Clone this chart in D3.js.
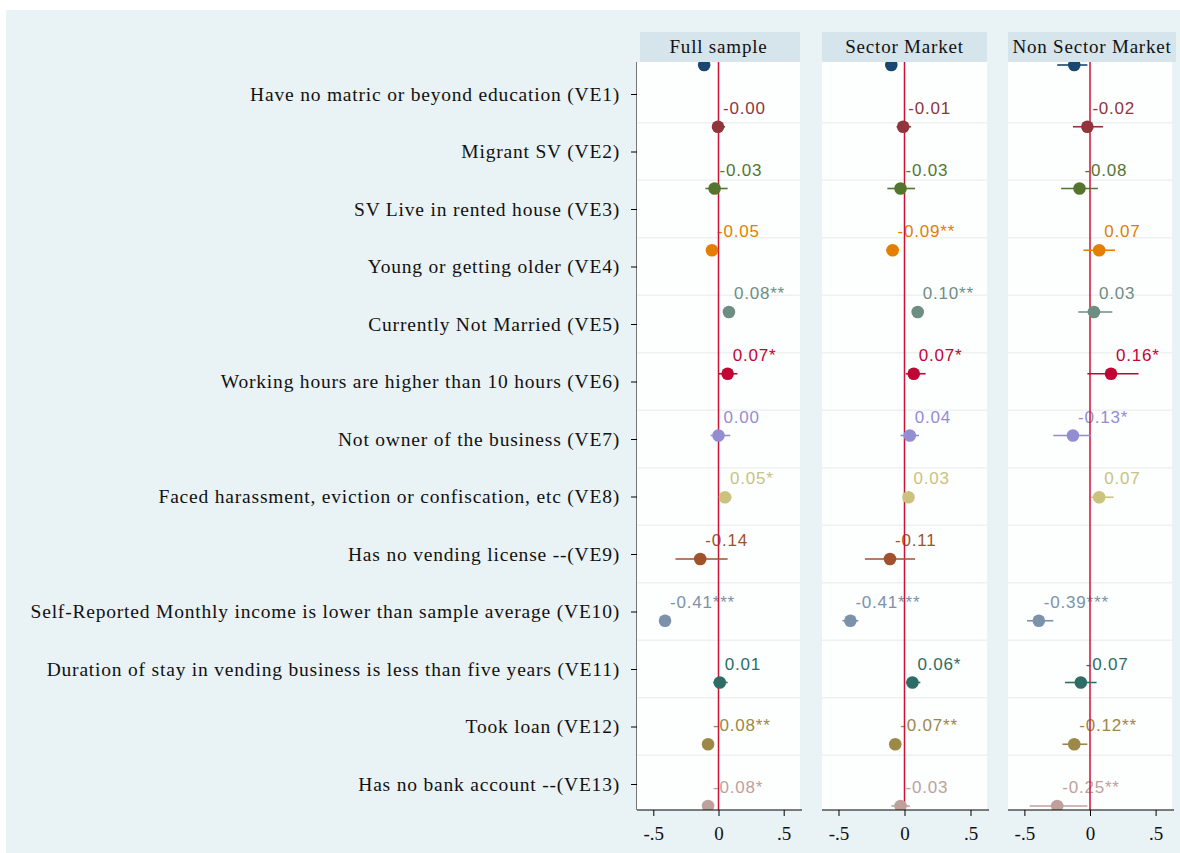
<!DOCTYPE html>
<html>
<head>
<meta charset="utf-8">
<script src="https://cdn.jsdelivr.net/npm/d3@7"></script>
<style>
  body { margin: 0; background: #fff; }
  svg { display: block; }
</style>
</head>
<body>
<div class="content-container"></div>
<script>
// variables (rows of the coefficient plot)
const codes = ["VE1","VE2","VE3","VE4","VE5","VE6","VE7","VE8","VE9","VE10","VE11","VE12","VE13"];
const varLabels = [
  "Have no matric or beyond education (VE1)",
  "Migrant SV  (VE2)",
  "SV  Live in rented house (VE3)",
  "Young or getting older (VE4)",
  "Currently Not Married (VE5)",
  "Working hours are higher than 10 hours (VE6)",
  "Not owner of the business (VE7)",
  "Faced harassment, eviction or confiscation, etc (VE8)",
  "Has no vending license --(VE9)",
  "Self-Reported Monthly income is lower than sample average (VE10)",
  "Duration of stay in vending business is less than five years (VE11)",
  "Took loan (VE12)",
  "Has no bank account --(VE13)"
];
const colors = ["#1a476f","#90353b","#55752f","#e37e00","#6e8e84","#c10534","#938dd2",
                "#cac27e","#a0522d","#7b92a8","#2d6d66","#9c8847","#bfa19c"];

const panelNames = ["Full sample", "Sector Market", "Non Sector Market"];

// Full sample
const fullCoef  = [-0.11, -0.004, -0.03, -0.05, 0.08, 0.07, 0.00, 0.05, -0.14, -0.41, 0.01, -0.08, -0.08];
const fullLo    = [-0.15, -0.05, -0.10, -0.08, 0.05, 0.00, -0.06, 0.01, -0.33, -0.44, -0.04, -0.12, -0.12];
const fullHi    = [-0.07, 0.05, 0.07, -0.02, 0.11, 0.145, 0.09, 0.10, 0.07, -0.38, 0.07, -0.04, -0.04];
const fullStars = ["", "", "", "", "**", "*", "", "*", "", "***", "", "**", "*"];

// Sector market
const sectorCoef  = [-0.10, -0.01, -0.03, -0.09, 0.10, 0.07, 0.04, 0.03, -0.11, -0.41, 0.06, -0.07, -0.03];
const sectorLo    = [-0.14, -0.06, -0.13, -0.14, 0.06, 0.01, -0.03, 0.00, -0.30, -0.47, 0.01, -0.11, -0.10];
const sectorHi    = [-0.06, 0.05, 0.08, -0.04, 0.14, 0.16, 0.11, 0.07, 0.08, -0.35, 0.12, -0.03, 0.04];
const sectorStars = ["", "", "", "**", "**", "*", "", "", "", "***", "*", "**", ""];

// Non sector market (VE9 not estimated)
const nonCoef  = [-0.12, -0.02, -0.08, 0.07, 0.03, 0.16, -0.13, 0.07, null, -0.39, -0.07, -0.12, -0.25];
const nonLo    = [-0.25, -0.13, -0.22, -0.05, -0.09, -0.02, -0.28, 0.01, null, -0.48, -0.19, -0.21, -0.46];
const nonHi    = [-0.02, 0.10, 0.06, 0.19, 0.17, 0.37, 0.01, 0.18, null, -0.28, 0.05, -0.02, -0.02];
const nonStars = ["", "", "", "", "", "*", "*", "", "", "***", "", "**", "**"];

const xTicks = [-0.5, 0, 0.5];
const xTickLabels = ["-.5", "0", ".5"];

const width = 1180, height = 853;
const plotTop = 62, plotBottom = 810, headerTop = 32;
const panelBounds = [[637, 800], [822, 987], [1008, 1172]];

const panels = [
  {name: panelNames[0], coef: fullCoef, lo: fullLo, hi: fullHi, stars: fullStars},
  {name: panelNames[1], coef: sectorCoef, lo: sectorLo, hi: sectorHi, stars: sectorStars},
  {name: panelNames[2], coef: nonCoef, lo: nonLo, hi: nonHi, stars: nonStars}
];

const fmt = v => (v < 0 ? "-" : "") + Math.abs(v).toFixed(2);

const svg = d3.select(".content-container").append("svg")
  .attr("width", width).attr("height", height);

// BACKGROUND
svg.append("rect").attr("x", 6).attr("y", 10).attr("width", width - 6).attr("height", height - 10)
  .attr("fill", "#e9f2f4");

// SCALES
const yMarker = d3.scalePoint().domain(codes).range([65, 806]);
const yTick = d3.scalePoint().domain(codes).range([94, 784]);

// Y AXIS (labels on the left of the first panel)
const yAxis = d3.axisLeft(yTick).tickSize(6).tickFormat((d, i) => varLabels[i]);
const yg = svg.append("g").attr("transform", "translate(" + panelBounds[0][0] + ",0)").call(yAxis);
yg.select(".domain").attr("d", "M0," + plotTop + "V" + plotBottom).attr("stroke", "#000");
yg.selectAll(".tick text")
  .attr("x", -17)
  .style("font-family", "'Liberation Serif', serif")
  .style("font-size", "19.5px")
  .style("letter-spacing", "0.8px")
  .style("fill", "#111");
yg.selectAll(".tick line").attr("stroke", "#000");

panels.forEach(function(p, k) {
  const [x0, x1] = panelBounds[k];
  const xScale = d3.scaleLinear().domain([-0.625, 0.625]).range([x0, x1]);
  const g = svg.append("g");

  // header strip
  g.append("rect")
    .attr("x", x0 + (k === 0 ? 3 : 0)).attr("y", headerTop)
    .attr("width", (k === 2 ? width - 4 : x1) - x0 - (k === 0 ? 3 : 0))
    .attr("height", plotTop - headerTop)
    .attr("fill", "#d6e4ec");
  g.append("text")
    .attr("x", k === 2 ? (x0 + width - 4) / 2 : (x0 + x1) / 2)
    .attr("y", 53)
    .attr("text-anchor", "middle")
    .style("font-family", "'Liberation Serif', serif")
    .style("font-size", "19px")
    .style("letter-spacing", "0.8px")
    .style("fill", "#111")
    .text(p.name);

  // plot region
  g.append("rect")
    .attr("x", x0).attr("y", plotTop)
    .attr("width", x1 - x0).attr("height", plotBottom - plotTop)
    .attr("fill", "#fdfefe");

  const clipId = "clip" + k;
  svg.append("clipPath").attr("id", clipId).append("rect")
    .attr("x", x0).attr("y", plotTop).attr("width", x1 - x0 + 30).attr("height", plotBottom - plotTop);
  const pg = g.append("g").attr("clip-path", "url(#" + clipId + ")");

  // faint gridlines between rows
  pg.selectAll(".grid")
    .data(codes.slice(0, codes.length - 1))
    .enter().append("line")
    .attr("x1", x0).attr("x2", x1)
    .attr("y1", d => yTick(d) + yTick.step() / 2)
    .attr("y2", d => yTick(d) + yTick.step() / 2)
    .attr("stroke", "#eef1ef").attr("stroke-width", 1.5);

  const rows = codes.map((c, i) => ({code: c, i: i, coef: p.coef[i], lo: p.lo[i], hi: p.hi[i], star: p.stars[i]}))
    .filter(d => d.coef !== null);

  // value labels (the top row's label falls outside the plot region and is not shown)
  pg.selectAll(".lab")
    .data(rows.filter(d => yMarker(d.code) - 27 >= plotTop))
    .enter().append("text")
    .attr("x", d => xScale(d.coef) + 5)
    .attr("y", d => yMarker(d.code) - 13)
    .style("font-family", "'Liberation Sans', sans-serif")
    .style("font-size", "17px")
    .style("letter-spacing", "0.8px")
    .style("fill", d => colors[d.i])
    .text(d => fmt(d.coef) + d.star);

  // zero line
  pg.append("line")
    .attr("x1", xScale(0)).attr("x2", xScale(0))
    .attr("y1", plotTop).attr("y2", plotBottom)
    .attr("stroke", "#cc1236").attr("stroke-width", 1.5);

  // confidence intervals
  pg.selectAll(".ci")
    .data(rows)
    .enter().append("line")
    .attr("x1", d => xScale(d.lo)).attr("x2", d => xScale(d.hi))
    .attr("y1", d => yMarker(d.code)).attr("y2", d => yMarker(d.code))
    .attr("stroke", d => colors[d.i]).attr("stroke-width", 1.6);

  // point estimates
  pg.selectAll(".pt")
    .data(rows)
    .enter().append("circle")
    .attr("cx", d => xScale(d.coef))
    .attr("cy", d => yMarker(d.code))
    .attr("r", 6.3)
    .attr("fill", d => colors[d.i]);

  // x axis
  const xAxis = d3.axisBottom(xScale).tickValues(xTicks).tickSize(6)
    .tickFormat((d, i) => xTickLabels[i]);
  const xg = g.append("g").attr("transform", "translate(0," + plotBottom + ")").call(xAxis);
  xg.select(".domain").attr("d", "M" + x0 + ",0H" + (x1 + 2)).attr("stroke", "#000");
  xg.selectAll(".tick line").attr("stroke", "#000");
  xg.selectAll(".tick text")
    .attr("y", 17)
    .style("font-family", "'Liberation Serif', serif")
    .style("font-size", "19px")
    .style("fill", "#111");
});
</script>
</body>
</html>
